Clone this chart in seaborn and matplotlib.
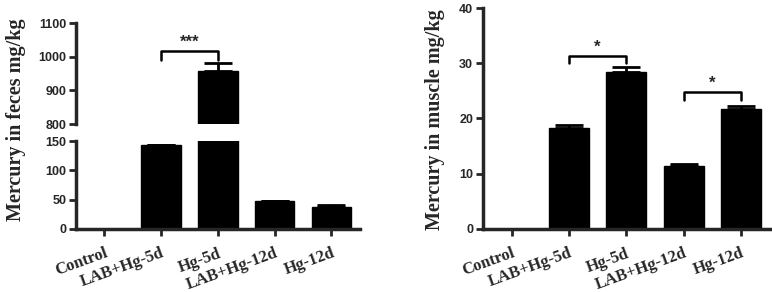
import numpy as np
import matplotlib
matplotlib.use("Agg")
import matplotlib.pyplot as plt
import seaborn as sns

groups = ["Control", "LAB+Hg-5d", "Hg-5d", "LAB+Hg-12d", "Hg-12d"]
feces = [0, 143, 957, 47, 37]
feces_err = [0, 1.5, 24, 1, 3]
muscle = [0, 18.2, 28.5, 11.4, 21.7]
muscle_err = [0, 0.6, 0.8, 0.4, 0.6]

sns.set_style("ticks")
plt.rcParams["font.family"] = ["Liberation Serif", "DejaVu Serif"]

fig = plt.figure(figsize=(7.72, 2.92), dpi=100)
ax_top = fig.add_axes([0.0984, 0.5753, 0.3676, 0.3447])
ax_bot = fig.add_axes([0.0984, 0.2168, 0.3676, 0.2993])
ax_r = fig.add_axes([0.6256, 0.2168, 0.3714, 0.7548])

lw = 2.5
ytick_font = dict(family="Liberation Sans", fontweight="bold", fontsize=9)
xlab_font = dict(family="Liberation Serif", fontweight="bold", fontsize=12)


def draw(ax, vals, errs, yticks):
    sns.barplot(x=groups, y=vals, color="black", width=0.7, saturation=1,
                errorbar=None, edgecolor="black", ax=ax)
    idx = [i for i, e in enumerate(errs) if e > 0]
    ax.errorbar(idx, [vals[i] for i in idx],
                yerr=[[0] * len(idx), [errs[i] for i in idx]],
                fmt="none", ecolor="black", elinewidth=2, capsize=10, capthick=2)
    ax.set_xlim(-0.5, 4.5)
    ax.set_ylim(yticks[0], yticks[-1])
    ax.set_yticks(yticks, labels=[str(v) for v in yticks], **ytick_font)
    ax.set_xlabel("")
    ax.set_ylabel("")
    for s in ["top", "right"]:
        ax.spines[s].set_visible(False)
    for s in ["left", "bottom"]:
        ax.spines[s].set_linewidth(lw)
    ax.tick_params(width=2, length=5, direction="out", pad=2)


def bracket(ax, x0, x1, y, h, label, dy):
    ax.plot([x0, x0, x1, x1], [y - h, y, y, y - h], color="black", lw=1.8,
            clip_on=False)
    ax.text((x0 + x1) / 2, y + dy, label, ha="center", va="center",
            fontsize=12, fontweight="bold", family="Liberation Sans")


# left panel (broken axis)
draw(ax_top, feces, feces_err, [800, 900, 1000, 1100])
draw(ax_bot, feces, feces_err, [0, 50, 100, 150])
ax_top.spines["bottom"].set_visible(False)
ax_top.tick_params(axis="x", bottom=False, labelbottom=False)
bracket(ax_top, 1, 2, 1018, 26, "***", 26)

# right panel
draw(ax_r, muscle, muscle_err, [0, 10, 20, 30, 40])
bracket(ax_r, 1, 2, 31.3, 1.3, "*", 1.6)
bracket(ax_r, 3, 4, 24.8, 1.4, "*", 1.6)

for ax in (ax_bot, ax_r):
    ax.set_xticks(range(len(groups)))
    ax.set_xticklabels(groups, rotation=20, ha="right", rotation_mode="anchor",
                       **xlab_font)
    ax.tick_params(axis="x", pad=7)

fig.text(0.021, 0.589, "Mercury in feces mg/kg", rotation=90, ha="center",
         va="center", fontsize=14.5, fontweight="bold")
fig.text(0.563, 0.589, "Mercury in muscle mg/kg", rotation=90, ha="center",
         va="center", fontsize=14.5, fontweight="bold")

fig.savefig("out.png", dpi=100)
